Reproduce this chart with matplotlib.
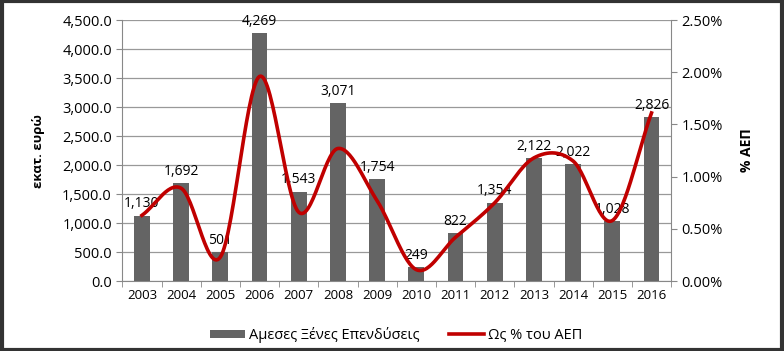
import numpy as np
import matplotlib
matplotlib.use("Agg")
import matplotlib.pyplot as plt
from matplotlib.ticker import FuncFormatter
from matplotlib.patches import Rectangle

years = ["2003", "2004", "2005", "2006", "2007", "2008", "2009", "2010",
         "2011", "2012", "2013", "2014", "2015", "2016"]
fdi = [1130, 1692, 501, 4269, 1543, 3071, 1754, 249, 822, 1354, 2122, 2022, 1028, 2826]
pct_gdp = [0.63, 0.89, 0.23, 1.96, 0.66, 1.27, 0.77, 0.11, 0.42, 0.75, 1.18, 1.15, 0.58, 1.61]

plt.rcParams['font.family'] = ['Open Sans', 'DejaVu Sans']

fig = plt.figure(figsize=(7.84, 3.51), dpi=100)
ax = fig.add_axes([0.156, 0.199, 0.700, 0.744])
ax2 = ax.twinx()

x = np.arange(len(years))
ax.bar(x, fdi, width=0.4, color="#646464", zorder=2, label="Αμεσες Ξένες Επενδύσεις")
for xi, v in zip(x, fdi):
    ax.annotate(f"{v:,}", (xi, v), xytext=(0, 3), textcoords="offset points",
                ha="center", va="bottom", fontsize=10, color="black", zorder=5)

ax.set_xlim(-0.5, len(years) - 0.5)
ax.set_ylim(0, 4500)
ax.set_yticks(np.arange(0, 4501, 500))
ax.yaxis.set_major_formatter(FuncFormatter(lambda v, p: f"{v:,.1f}"))
ax.set_xticks(x)
ax.set_xticklabels(years)
ax.set_xticks(np.arange(-0.5, len(years), 1), minor=True)
ax.tick_params(axis="x", which="major", length=0, labelsize=9.5, pad=6)
ax.tick_params(axis="x", which="minor", length=4, color="#888888")
ax.tick_params(axis="y", labelsize=10.5, length=4, color="#888888")
ax.grid(axis="y", color="#999999", linewidth=0.9, zorder=0)
ax.set_axisbelow(True)
for s in ["top", "right"]:
    ax.spines[s].set_visible(False)
ax.spines["left"].set_color("#888888")
ax.spines["bottom"].set_color("#888888")
ax.set_ylabel("εκατ. ευρώ", fontsize=9.5, fontweight="bold", labelpad=12)

# Catmull-Rom spline for smoothed line (Excel-like)
def catmull_rom(xs, ys, n=30):
    xs = np.asarray(xs, float); ys = np.asarray(ys, float)
    px = np.concatenate([[2*xs[0]-xs[1]], xs, [2*xs[-1]-xs[-2]]])
    py = np.concatenate([[2*ys[0]-ys[1]], ys, [2*ys[-1]-ys[-2]]])
    ox, oy = [], []
    for i in range(1, len(px) - 2):
        t = np.linspace(0, 1, n, endpoint=False)
        for arr, out in ((px, ox), (py, oy)):
            p0, p1, p2, p3 = arr[i-1], arr[i], arr[i+1], arr[i+2]
            out.extend(0.5 * ((2*p1) + (-p0 + p2)*t + (2*p0 - 5*p1 + 4*p2 - p3)*t**2
                              + (-p0 + 3*p1 - 3*p2 + p3)*t**3))
    ox.append(xs[-1]); oy.append(ys[-1])
    return np.array(ox), np.array(oy)

sx, sy = catmull_rom(x, pct_gdp)
ax2.plot(sx, sy, color="#c00000", linewidth=2.6, zorder=4, label="Ως % του ΑΕΠ")
ax2.set_ylim(0, 2.5)
ax2.set_yticks(np.arange(0, 2.51, 0.5))
ax2.yaxis.set_major_formatter(FuncFormatter(lambda v, p: f"{v:.2f}%"))
ax2.tick_params(axis="y", labelsize=10.5, length=4, color="#888888")
for s in ["top", "left", "bottom"]:
    ax2.spines[s].set_visible(False)
ax2.spines["right"].set_color("#888888")
ax2.set_ylabel("% ΑΕΠ", fontsize=10, fontweight="bold", labelpad=12)

h1, l1 = ax.get_legend_handles_labels()
h2, l2 = ax2.get_legend_handles_labels()
fig.legend(h1 + h2, l1 + l2, loc="center", bbox_to_anchor=(0.505, 0.046), ncol=2,
           frameon=False, fontsize=10.5, handlelength=2.4, handleheight=0.45,
           handletextpad=0.3, columnspacing=2.0)

fig.patches.append(Rectangle((0.002, 0.003), 0.996, 0.994, transform=fig.transFigure,
                             fill=False, edgecolor="#333333", linewidth=3))

fig.savefig("out.png", dpi=100)
